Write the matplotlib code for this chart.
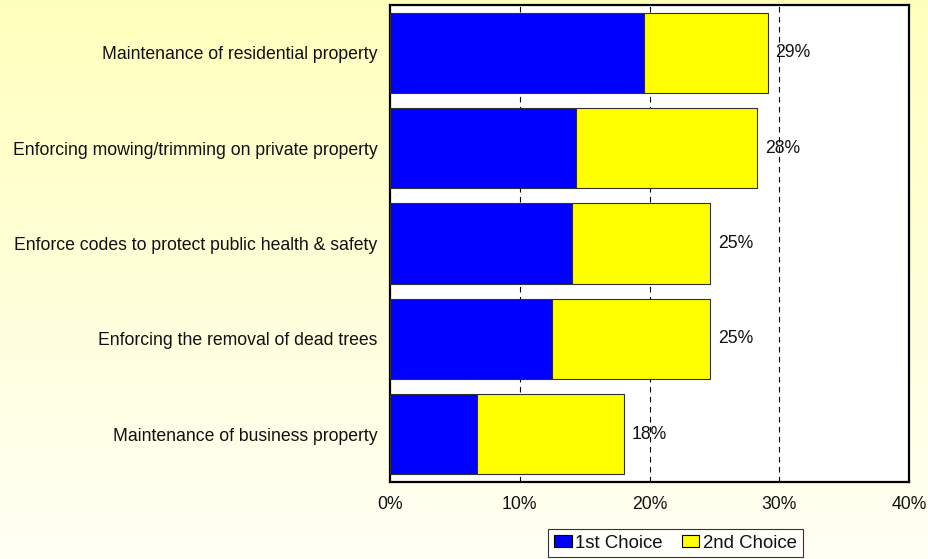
import numpy as np
import matplotlib
matplotlib.use("Agg")
from matplotlib import pyplot as plt
from matplotlib.patches import Patch

plt.rcParams['font.family'] = ['Liberation Sans', 'DejaVu Sans']

categories = [
    "Maintenance of residential property",
    "Enforcing mowing/trimming on private property",
    "Enforce codes to protect public health & safety",
    "Enforcing the removal of dead trees",
    "Maintenance of business property",
]
first_choice = [19.6, 14.3, 14.0, 12.5, 6.7]
second_choice = [9.5, 14.0, 10.7, 12.2, 11.3]
total_labels = ["29%", "28%", "25%", "25%", "18%"]
x_ticks = [0, 10, 20, 30, 40]

FS = 12.7
W, H = 929, 559
fig = plt.figure(figsize=(W / 100, H / 100), dpi=100)

# background: pale yellow fading towards white at the bottom
bg = fig.add_axes([0, 0, 1, 1], zorder=-5)
grad = np.linspace(0, 1, 256).reshape(-1, 1)
top = np.array([1.0, 1.0, 0.74])
bottom = np.array([1.0, 1.0, 0.96])
img = top + (bottom - top) * grad[..., None]
bg.imshow(img, aspect='auto', extent=[0, 1, 0, 1])
bg.axis('off')

left, right, ytop, ybot = 390, 909, 5, 482
ax = fig.add_axes([left / W, 1 - ybot / H, (right - left) / W, (ybot - ytop) / H])
ax.set_facecolor('white')

y = np.arange(len(categories))
ax.barh(y, first_choice, height=0.84, color='#0000FF', edgecolor='#303030',
        linewidth=0.8, zorder=3)
ax.barh(y, second_choice, left=first_choice, height=0.84, color='#FFFF00',
        edgecolor='#303030', linewidth=0.8, zorder=3)

totals = np.array(first_choice) + np.array(second_choice)
for yi, t, lab in zip(y, totals, total_labels):
    ax.annotate(lab, (t, yi), xytext=(5.5, 0), textcoords='offset points',
                va='center', ha='left', fontsize=FS, color='#111111', zorder=4)

ax.set_xlim(0, 40)
ax.set_ylim(4.5, -0.5)
ax.set_xticks(x_ticks)
ax.set_xticklabels([f"{v}%" for v in x_ticks])
ax.set_yticks(y)
ax.set_yticklabels(categories)
ax.tick_params(axis='both', length=0, labelsize=FS, colors='#111111')
ax.tick_params(axis='y', pad=9)
ax.tick_params(axis='x', pad=10)

for v in x_ticks[1:-1]:
    ax.axvline(v, color='black', linewidth=0.8, linestyle=(0, (5, 4)), zorder=1)

for s in ax.spines.values():
    s.set_linewidth(1.6)
    s.set_color('black')

LFS = 13.4
handles = [Patch(facecolor='#0000FF', edgecolor='black', linewidth=0.8),
           Patch(facecolor='#FFFF00', edgecolor='black', linewidth=0.8)]
leg = fig.legend(handles, ["1st Choice", "2nd Choice"], loc='center',
                 bbox_to_anchor=(675.5 / W, 1 - 543 / H), ncol=2, fontsize=LFS,
                 frameon=True, fancybox=False, edgecolor='black',
                 handlelength=0.95, handleheight=0.55, handletextpad=0.2,
                 columnspacing=1.0, borderpad=0.3, borderaxespad=0)
leg.get_frame().set_linewidth(0.8)
leg.get_frame().set_facecolor('white')
for t in leg.get_texts():
    t.set_color('#111111')

fig.savefig("out.png", dpi=100)
